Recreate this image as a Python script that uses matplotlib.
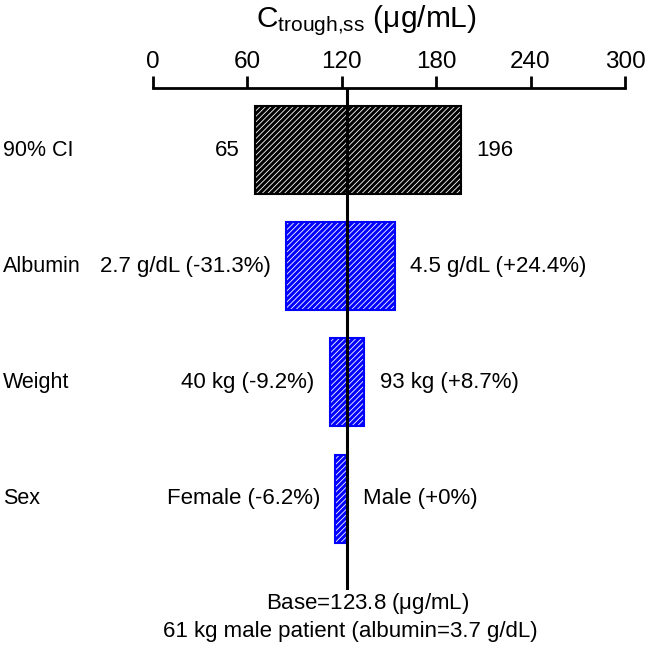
import matplotlib
matplotlib.use("Agg")
import matplotlib.pyplot as plt
import matplotlib.transforms as mtransforms

plt.rcParams['font.family'] = ['Liberation Sans', 'DejaVu Sans']
plt.rcParams['mathtext.fontset'] = 'custom'
plt.rcParams['mathtext.rm'] = 'Liberation Sans'
plt.rcParams['hatch.linewidth'] = 0.6

# data
base = 123.8
categories = ['90% CI', 'Albumin', 'Weight', 'Sex']
low_values = [65, 85.05, 112.4, 116.1]
high_values = [196, 154.0, 134.6, 123.8]
low_labels = ['65', '2.7 g/dL (-31.3%)', '40 kg (-9.2%)', 'Female (-6.2%)']
high_labels = ['196', '4.5 g/dL (+24.4%)', '93 kg (+8.7%)', 'Male (+0%)']
bar_colors = ['black', '#0000ff', '#0000ff', '#0000ff']
xticks = [0, 60, 120, 180, 240, 300]

W, H = 645, 649
fig = plt.figure(figsize=(W / 100, H / 100), dpi=100)
ax = fig.add_axes([152.5 / W, 1 - 590 / H, (625 - 152.5) / W, (590 - 88) / H])

# category labels sit at the figure's left edge
label_trans = mtransforms.blended_transform_factory(fig.transFigure, ax.transData)

for i in range(len(categories)):
    lo, hi = low_values[i], high_values[i]
    # hatched fill (white lines) then coloured outline
    ax.barh(i, hi - lo, left=lo, height=0.757, color=bar_colors[i],
            edgecolor='white', hatch='//////', linewidth=0, zorder=2)
    ax.barh(i, hi - lo, left=lo, height=0.757, fill=False,
            edgecolor=bar_colors[i], linewidth=1.5, zorder=3)
    ax.annotate(low_labels[i], (lo, i), xytext=(-11, 0),
                textcoords='offset points', ha='right', va='center',
                fontsize=16)
    ax.annotate(high_labels[i], (hi, i), xytext=(11, 0),
                textcoords='offset points', ha='left', va='center',
                fontsize=16)
    ax.text(3 / W, i, categories[i], transform=label_trans,
            fontsize=15.5, ha='left', va='center')

ax.axvline(base, color='black', linewidth=2.2, zorder=4)

ax.set_xlim(0, 300)
ax.set_ylim(3.787, -0.534)
ax.set_xticks(xticks)
ax.xaxis.tick_top()
ax.tick_params(axis='x', direction='out', length=9, width=2, pad=1.5,
               labelsize=17.5)
ax.set_yticks([])
for s in ['left', 'right', 'bottom']:
    ax.spines[s].set_visible(False)
ax.spines['top'].set_linewidth(2)

fig.text(366 / W, 1 - 21 / H, r'$\mathrm{C_{trough{,}ss}}$ ($\mathrm{\mu}$g/mL)',
         fontsize=21.5, ha='center', va='center')
fig.text(368 / W, 1 - 603 / H, r'Base=123.8 ($\mathrm{\mu}$g/mL)',
         fontsize=16, ha='center', va='center')
fig.text(350 / W, 1 - 632 / H, '61 kg male patient (albumin=3.7 g/dL)',
         fontsize=16, ha='center', va='center')

fig.savefig('out.png', dpi=100)
